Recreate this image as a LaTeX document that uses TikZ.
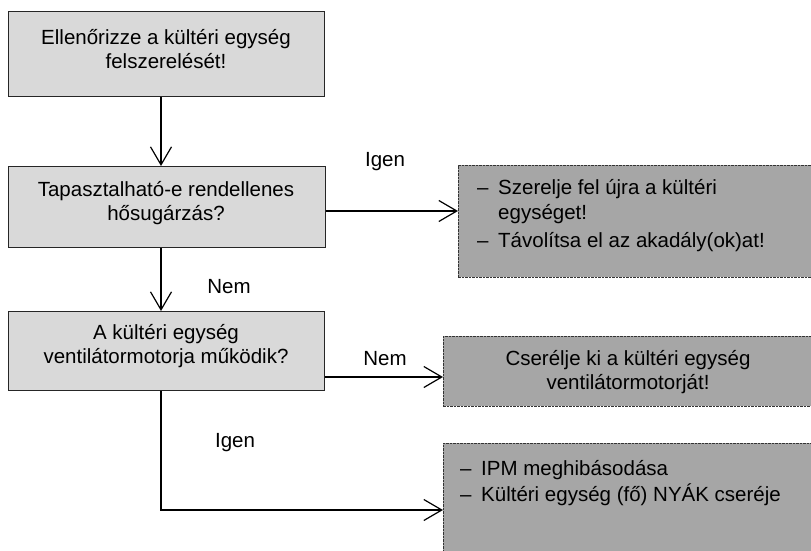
\documentclass[tikz,border=0pt]{standalone}
\usepackage{fontspec}
\setmainfont{Liberation Sans}
\usetikzlibrary{arrows.meta}
\definecolor{lightfill}{HTML}{D9D9D9}
\definecolor{darkfill}{HTML}{A6A6A6}
\tikzset{
  lightbox/.style={draw=black!85, line width=0.9pt, fill=lightfill, anchor=north west, inner sep=0pt},
  darkbox/.style={draw=black!80, line width=0.7pt, dash pattern=on 2.5pt off 1pt, fill=darkfill, anchor=north west, inner sep=0pt},
  txt/.style={font=\fontsize{20.5}{24}\selectfont, inner sep=0pt, text=black},
  conn/.style={line width=1.2pt, draw=black, -{Straight Barb[length=18pt,width=21pt,line width=1.2pt]}},
  dashitem/.style={font=\fontsize{20.5}{24}\selectfont, inner sep=0pt, anchor=base west, text=black}
}
\newcommand{\dashmark}{\makebox[21pt][l]{–}}
\begin{document}
\begin{tikzpicture}[x=1pt,y=-1pt]
\useasboundingbox (0,0) rectangle (811,551);
% boxes
\node[lightbox, minimum width=316pt, minimum height=85pt] (b1) at (8,11) {};
\node[lightbox, minimum width=317pt, minimum height=81pt] (b2) at (8,166) {};
\node[lightbox, minimum width=316pt, minimum height=79pt] (b3) at (8,311) {};
\node[darkbox, minimum width=360pt, minimum height=112pt] (r1) at (458,165) {};
\node[darkbox, minimum width=375pt, minimum height=70pt] (r2) at (443,336) {};
\node[darkbox, minimum width=375pt, minimum height=120pt] (r3) at (443,443) {};
% texts
\node[txt, align=center] (t1) at (166,49) {Ellenőrizze a kültéri egység\\felszerelését!};
\node[txt, align=center] (t2) at (166,203) {Tapasztalható-e rendellenes\\hősugárzás?};
\node[txt, align=center] (t3) at (166,346) {A kültéri egység\\ventilátormotorja működik?};
\node[txt, align=center] (t4) at (628,372) {Cserélje ki a kültéri egység\\ventilátormotorját!};
\node[dashitem] (s1) at (477,194) {\dashmark Szerelje fel újra a kültéri};
\node[dashitem] (s2) at (498,219) {egységet!};
\node[dashitem] (s3) at (477,247) {\dashmark Távolítsa el az akadály(ok)at!};
\node[dashitem] (p1) at (460,475) {\dashmark IPM meghibásodása};
\node[dashitem] (p2) at (460,501) {\dashmark Kültéri egység (fő) NYÁK cseréje};
% labels
\node[txt] (l1) at (385,162) {Igen};
\node[txt] (l2) at (229,287) {Nem};
\node[txt] (l3) at (385,359) {Nem};
\node[txt] (l4) at (235,443) {Igen};
% connectors
\coordinate (col) at (161,0);
\coordinate (turn) at (161,510);
\draw[conn] (b1.south -| col) -- (b2.north -| col);
\draw[conn] (b2.south -| col) -- (b3.north -| col);
\draw[conn] (b2.east |- 0,211) -- (r1.west |- 0,211);
\draw[conn] (b3.east |- 0,377) -- (r2.west |- 0,377);
\draw[conn] (b3.south -| col) -- (turn) -- (r3.west |- turn);
\end{tikzpicture}
\end{document}
